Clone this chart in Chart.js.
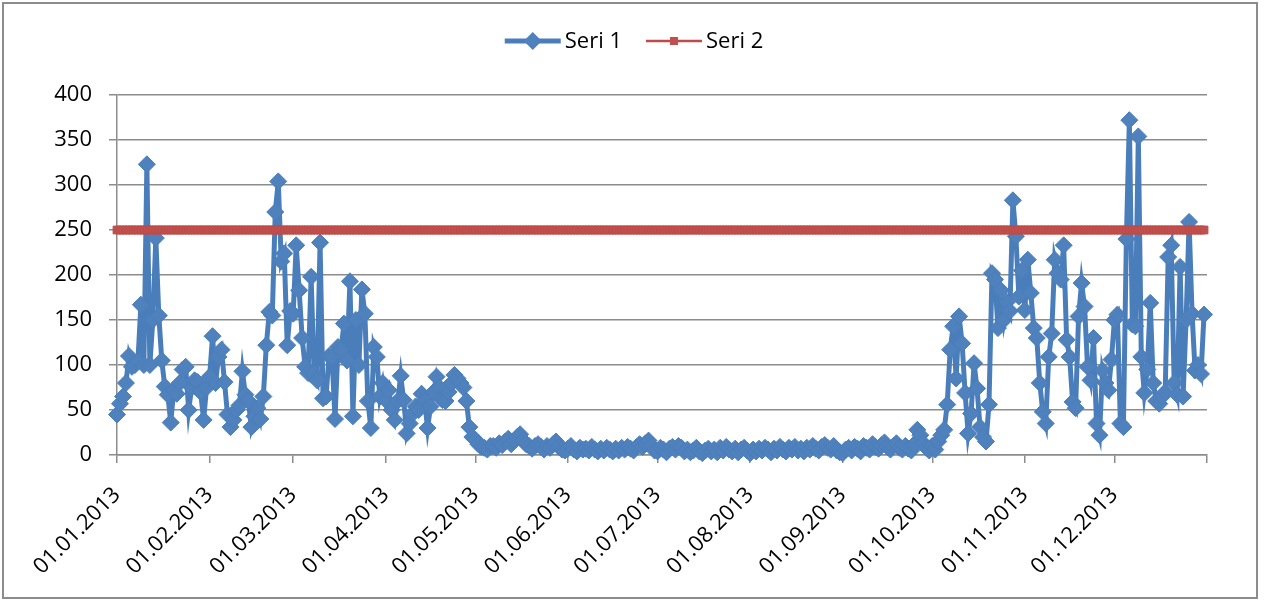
<!DOCTYPE html>
<html>
<head>
<meta charset="utf-8">
<title>Seri 1 / Seri 2 – 2013</title>
<script src="https://cdn.jsdelivr.net/npm/chart.js@4.4.1/dist/chart.umd.min.js"></script>
<style>
  html, body { margin: 0; padding: 0; background: #fff; }
  #wrap { position: relative; width: 1264px; height: 603px; }
  #wrap canvas { position: absolute; left: 0; top: 0; }
  #frame {
    position: absolute; left: 2px; top: 2px; width: 1256px; height: 597px;
    box-sizing: border-box; border: 2px solid #8c8c8c; pointer-events: none;
  }
</style>
</head>
<body>
<div id="wrap">
  <canvas id="chart" width="1264" height="603"></canvas>
  <div id="frame"></div>
</div>
<script>
// Daily readings for 2013, one array per month
const jan = [45, 57, 65, 80, 110, 98, 100, 104, 167, 100, 323, 100, 150, 241, 155, 105, 76, 67, 36, 72,
             68, 80, 95, 98, 50, 75, 83, 81, 70, 39, 75];
const feb = [87, 132, 80, 109, 117, 81, 45, 31, 39, 50, 55, 93, 67, 60, 31, 43, 52, 40, 65,
             122, 159, 155, 270, 304, 215, 224, 122, 160];
const mar = [157, 233, 183, 130, 98, 91, 198, 91, 83, 236, 63, 65, 110, 109, 40, 120, 117, 146, 105, 193,
             43, 150, 100, 184, 157, 60, 30, 120, 109, 65, 80];
const apr = [61, 72, 50, 39, 60, 88, 61, 24, 35, 46, 54, 50, 68, 60, 30, 54, 70, 87, 75, 61,
             60, 70, 80, 89, 85, 80, 75, 60, 31, 20];
const may = [17, 12, 9, 8, 6, 10, 10, 8, 13, 11, 15, 18, 12, 16, 20, 23, 16, 12, 10, 7,
             10, 12, 9, 6, 10, 8, 12, 15, 9, 6, 5];
const jun = [7, 10, 6, 4, 8, 6, 7, 5, 9, 6, 4, 7, 5, 8, 6, 4, 7, 5, 8, 6,
             9, 7, 5, 9, 12, 9, 13, 16, 10, 5];
const jul = [4, 8, 6, 3, 7, 9, 6, 10, 8, 4, 6, 3, 5, 8, 4, 2, 5, 7, 4, 6,
             3, 8, 5, 9, 6, 4, 7, 3, 6, 8, 5];
const aug = [2, 6, 4, 7, 5, 8, 6, 3, 7, 5, 9, 6, 4, 8, 6, 9, 5, 7, 4, 8,
             6, 10, 7, 5, 9, 11, 8, 6, 10, 5, 3];
const sep = [2, 6, 8, 5, 9, 7, 4, 10, 8, 6, 12, 9, 7, 11, 14, 9, 6, 10, 13, 8,
             6, 10, 7, 5, 12, 28, 22, 13, 8, 5];
const oct = [10, 6, 15, 22, 28, 56, 117, 143, 85, 154, 124, 69, 24, 46, 102, 74, 31, 20, 15, 56,
             202, 195, 141, 183, 150, 170, 160, 283, 243, 176, 205];
const nov = [161, 217, 180, 141, 130, 80, 48, 35, 109, 135, 217, 202, 195, 233, 128, 109, 59, 52, 154, 191,
             165, 98, 83, 130, 35, 22, 94, 80, 72, 106];
const dec = [150, 156, 35, 31, 240, 372, 145, 143, 354, 109, 69, 95, 169, 80, 60, 57, 65, 70, 220, 233,
             80, 67, 209, 65, 150, 259, 157, 94, 100, 90, 156];

// Seri 2: fixed limit value
const seri2Limit = 250;

// Axis labels at the first day of every month
const monthLabels = ['01.01.2013', '01.02.2013', '01.03.2013', '01.04.2013', '01.05.2013', '01.06.2013',
                     '01.07.2013', '01.08.2013', '01.09.2013', '01.10.2013', '01.11.2013', '01.12.2013'];
const yTicks = { min: 0, max: 400, step: 50 };

const seri1 = [].concat(jan, feb, mar, apr, may, jun, jul, aug, sep, oct, nov, dec);

// Calendar dates, one per reading
const dates = [];
for (let i = 0; i < seri1.length; i++) {
  const d = new Date(Date.UTC(2013, 0, 1 + i));
  const dd = String(d.getUTCDate()).padStart(2, '0');
  const mm = String(d.getUTCMonth() + 1).padStart(2, '0');
  dates.push(dd + '.' + mm + '.' + d.getUTCFullYear());
}
const seri2 = dates.map(() => seri2Limit);

const tickPositions = monthLabels.map(l => dates.indexOf(l)).concat([dates.length]);
const labelAt = {};
monthLabels.forEach(l => { labelAt[dates.indexOf(l)] = l; });

const FONT = '"Open Sans", "DejaVu Sans", sans-serif';
const GRID = '#8c8c8c';
const BLUE_LINE = '#4A7EBB', BLUE_FILL = '#4F81BD';
const RED_LINE = '#BE4B48', RED_FILL = '#C0504D';

// Legend: line sample with marker, then the series name
const lineLegend = {
  id: 'lineLegend',
  afterDraw(chart) {
    const ctx = chart.ctx;
    const y = 41, sample = 56, textGap = 4, itemGap = 24;
    ctx.save();
    ctx.font = '22px ' + FONT;
    ctx.textBaseline = 'middle';
    ctx.textAlign = 'left';
    const items = chart.data.datasets.slice().sort((a, b) => a.legendIndex - b.legendIndex);
    const widths = items.map(ds => sample + textGap + ctx.measureText(ds.label).width);
    const total = widths.reduce((a, b) => a + b, 0) + itemGap * (items.length - 1);
    let x = 634 - total / 2;
    items.forEach((ds, i) => {
      ctx.strokeStyle = ds.borderColor;
      ctx.lineWidth = ds.legendLineWidth;
      ctx.beginPath();
      ctx.moveTo(x, y);
      ctx.lineTo(x + sample, y);
      ctx.stroke();
      const cx = x + sample / 2;
      ctx.fillStyle = ds.pointBackgroundColor;
      ctx.beginPath();
      if (ds.pointStyle === 'rectRot') {
        const r = 9;
        ctx.moveTo(cx - r, y); ctx.lineTo(cx, y - r); ctx.lineTo(cx + r, y); ctx.lineTo(cx, y + r);
        ctx.closePath();
      } else {
        ctx.rect(cx - 4, y - 4, 8, 8);
      }
      ctx.fill();
      ctx.fillStyle = '#000';
      ctx.fillText(ds.label, x + sample + textGap, y + 1);
      x += widths[i] + itemGap;
    });
    ctx.restore();
  }
};

new Chart(document.getElementById('chart'), {
  type: 'line',
  data: {
    datasets: [
      {
        label: 'Seri 1',
        legendIndex: 0,
        legendLineWidth: 5,
        data: seri1.map((v, i) => ({ x: i, y: v })),
        borderColor: BLUE_LINE,
        borderWidth: 5,
        pointStyle: 'rectRot',
        pointRadius: 8.5,
        pointBorderWidth: 1,
        pointBackgroundColor: BLUE_FILL,
        pointBorderColor: BLUE_LINE,
        tension: 0,
        clip: false,
        order: 1
      },
      {
        label: 'Seri 2',
        legendIndex: 1,
        legendLineWidth: 2.5,
        data: seri2.map((v, i) => ({ x: i, y: v })),
        borderColor: RED_LINE,
        borderWidth: 2.25,
        pointStyle: 'rect',
        pointRadius: 5.5,
        pointBorderWidth: 1,
        pointBackgroundColor: RED_FILL,
        pointBorderColor: RED_LINE,
        tension: 0,
        clip: false,
        order: 0
      }
    ]
  },
  options: {
    responsive: false,
    animation: false,
    events: [],
    layout: { padding: { top: 95, right: 57, bottom: 0, left: 0 } },
    plugins: { legend: { display: false }, tooltip: { enabled: false } },
    scales: {
      x: {
        type: 'linear',
        min: 0,
        max: dates.length,
        afterBuildTicks: s => { s.ticks = tickPositions.map(v => ({ value: v })); },
        afterFit: s => { s.height = 148; },
        ticks: {
          autoSkip: false,
          minRotation: 45,
          maxRotation: 45,
          padding: 19,
          color: '#000',
          font: { family: FONT, size: 22 },
          callback: v => (labelAt[v] !== undefined ? labelAt[v] : '')
        },
        grid: { drawOnChartArea: false, drawTicks: true, tickLength: 8, color: GRID, lineWidth: 1.5 },
        border: { display: true, color: GRID, width: 1.5 }
      },
      y: {
        min: yTicks.min,
        max: yTicks.max,
        afterFit: s => { s.width = 117; },
        ticks: {
          stepSize: yTicks.step,
          padding: 17,
          color: '#000',
          font: { family: FONT, size: 22 }
        },
        grid: { color: GRID, lineWidth: 1.5, drawTicks: true, tickLength: 8 },
        border: { display: true, color: GRID, width: 1.5 }
      }
    }
  },
  plugins: [lineLegend]
});
</script>
</body>
</html>
